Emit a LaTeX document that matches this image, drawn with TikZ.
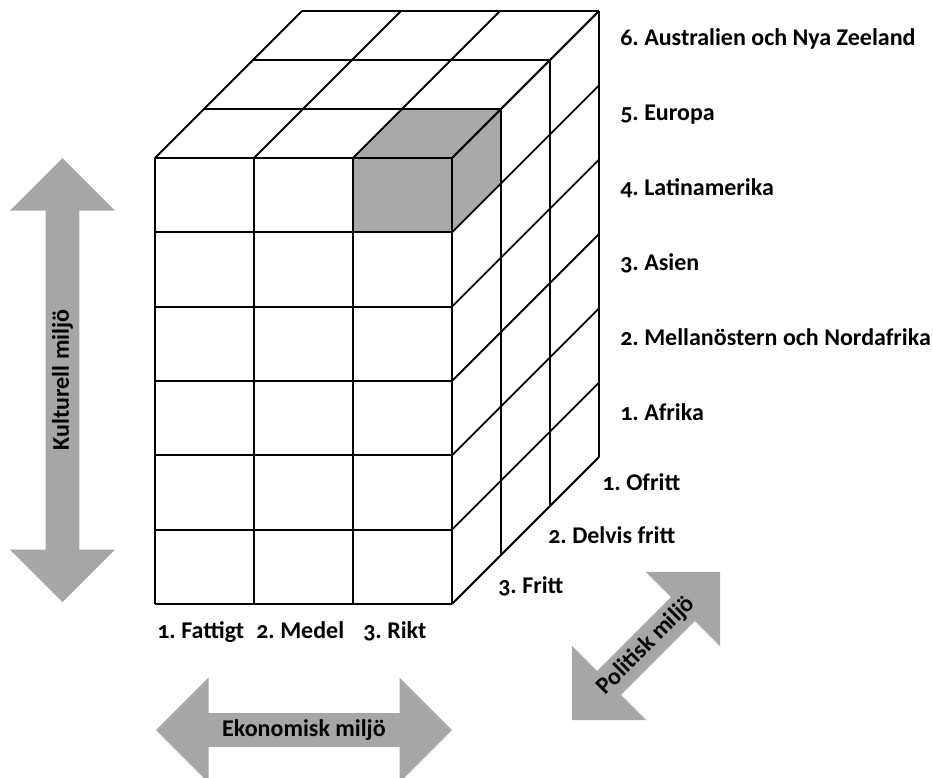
\documentclass[tikz,border=0pt]{standalone}
\usepackage{fontspec}
\setmainfont{Carlito}[Numbers=OldStyle]
\usetikzlibrary{shapes.arrows}
\definecolor{arrowgray}{HTML}{A6A6A6}
\definecolor{cellgray}{HTML}{A9A9A9}
\frenchspacing

\begin{document}
\begin{tikzpicture}[
      x=0.75pt, y=-0.75pt,
      grid/.style={line width=1.4pt, line join=round},
      lbl/.style={anchor=west, inner sep=0pt, text height=1.5ex, text depth=.25ex,
                  font=\bfseries\fontsize{18}{20}\selectfont},
      darrow/.style={double arrow, fill=arrowgray, draw=none, inner sep=0pt,
                     minimum width=78.75pt, double arrow head extend=16.9pt,
                     double arrow tip angle=90,
                     font=\bfseries\fontsize{18}{20}\selectfont}
    ]
    \useasboundingbox (0,0) rectangle (933,778);

    \def\cw{99}
    \def\rh{74.333}
    \def\dd{49}

    \fill[cellgray] (353,158) -- (402,109) -- (501,109) -- (501,183)
                    -- (452,232) -- (353,232) -- cycle;

    \foreach \i in {0,...,6} {
      \draw[grid] (155,158+\i*\rh) -- (452,158+\i*\rh);
      \draw[grid] (452,158+\i*\rh) -- ++(3*\dd,-3*\dd);
    }
    \foreach \j in {0,...,3} {
      \draw[grid] (155+\j*\cw,158) -- (155+\j*\cw,604);
      \draw[grid] (155+\j*\cw,158) -- ++(3*\dd,-3*\dd);
    }
    \foreach \k in {1,2,3} {
      \draw[grid] (155+\k*\dd,158-\k*\dd) -- (452+\k*\dd,158-\k*\dd);
      \draw[grid] (452+\k*\dd,158-\k*\dd) -- (452+\k*\dd,604-\k*\dd);
    }

    \node[lbl] (reg6) at (620,42)  {6. Australien och Nya Zeeland};
    \node[lbl] (reg5) at (620,117) {5. Europa};
    \node[lbl] (reg4) at (620,192) {4. Latinamerika};
    \node[lbl] (reg3) at (620,267) {3. Asien};
    \node[lbl] (reg2) at (620,342) {2. Mellanöstern och Nordafrika};
    \node[lbl] (reg1) at (620,417) {1. Afrika};

    \node[lbl] (pol1) at (602,487) {1. Ofritt};
    \node[lbl] (pol2) at (548,540) {2. Delvis fritt};
    \node[lbl] (pol3) at (498,590) {3. Fritt};

    \node[lbl] (eco1) at (157,635) {1. Fattigt};
    \node[lbl] (eco2) at (256,635) {2. Medel};
    \node[lbl] (eco3) at (363,635) {3. Rikt};

    \node[darrow, rotate=90, minimum height=333pt] (kult) at (62.5,380) {Kulturell miljö};
    \node[darrow, minimum height=222pt] (ekon) at (304,730) {Ekonomisk miljö};
    \node[darrow, rotate=45, minimum height=157pt] (polit) at (646,646) {Politisk miljö};

  \end{tikzpicture}
\end{document}
